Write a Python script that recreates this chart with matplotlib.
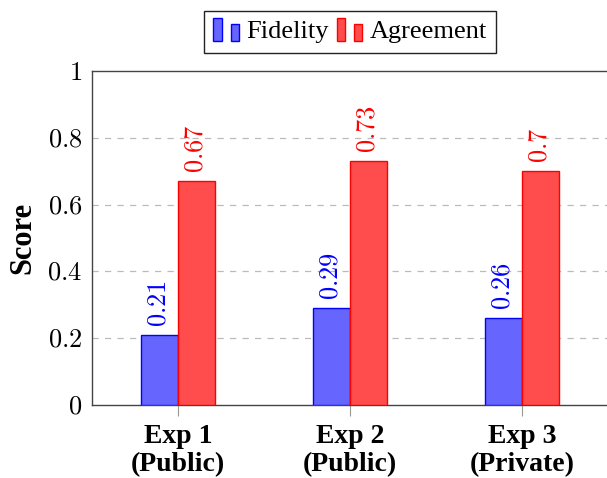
import numpy as np
import matplotlib
matplotlib.use("Agg")
import matplotlib.pyplot as plt
from matplotlib.patches import Rectangle
from matplotlib.legend_handler import HandlerBase

categories = ["Exp 1\n(Public)", "Exp 2\n(Public)", "Exp 3\n(Private)"]
fidelity = [0.21, 0.29, 0.26]
agreement = [0.67, 0.73, 0.70]

plt.rcParams["mathtext.fontset"] = "cm"
plt.rcParams["font.family"] = ["Liberation Serif", "DejaVu Serif"]


class TwoBarHandler(HandlerBase):
    # pgfplots-style ybar legend image: two small bars
    def create_artists(self, legend, orig_handle, xdescent, ydescent,
                       width, height, fontsize, trans):
        fc = orig_handle.get_facecolor()
        ec = orig_handle.get_edgecolor()
        w = width * 0.32
        r1 = Rectangle((-xdescent, -ydescent - 0.15 * height), w, height * 1.25,
                       facecolor=fc, edgecolor=ec, lw=1, transform=trans)
        r2 = Rectangle((-xdescent + width * 0.66, -ydescent - 0.15 * height), w, height * 0.95,
                       facecolor=fc, edgecolor=ec, lw=1, transform=trans)
        return [r1, r2]


fig = plt.figure(figsize=(6.07, 4.78), dpi=100)
ax = fig.add_axes([92 / 607, 73 / 478, 516 / 607, 334 / 478])

x = np.arange(len(categories))
bw = 0.215
blue_fc, blue_ec = "#6666ff", "#0000ff"
red_fc, red_ec = "#ff4d4d", "#ff0000"

ax.bar(x - bw / 2, fidelity, bw, color=blue_fc, edgecolor=blue_ec, lw=1, zorder=3)
ax.bar(x + bw / 2, agreement, bw, color=red_fc, edgecolor=red_ec, lw=1, zorder=3)

for xi, v in zip(x - bw / 2, fidelity):
    ax.text(xi, v + 0.025, f"${v:g}$", rotation=90, ha="center", va="bottom",
            color="blue", fontsize=19)
for xi, v in zip(x + bw / 2, agreement):
    ax.text(xi, v + 0.025, f"${v:g}$", rotation=90, ha="center", va="bottom",
            color="red", fontsize=19)

ax.set_xlim(-0.5, 2.5)
ax.set_ylim(0, 1)
ax.set_xticks(x)
ax.set_xticklabels(categories, fontweight="bold", fontsize=20, linespacing=1.15)
yt = [0, 0.2, 0.4, 0.6, 0.8, 1]
ax.set_yticks(yt)
ax.set_yticklabels([f"${t:g}$" for t in yt], fontsize=19)
ax.tick_params(axis="x", direction="out", length=8, color="#999999", width=0.8, pad=6)
ax.tick_params(axis="y", direction="in", length=0, pad=7)

ax.set_ylabel("Score", fontweight="bold", fontsize=22, labelpad=7)

for s in ax.spines.values():
    s.set_color("#444444")
    s.set_linewidth(1.0)

ax.set_axisbelow(True)
for t in yt[1:-1]:
    ax.axhline(t, color="#bbbbbb", lw=0.9, ls=(0, (5, 5)), zorder=0)

h1 = Rectangle((0, 0), 1, 1, facecolor=blue_fc, edgecolor=blue_ec)
h2 = Rectangle((0, 0), 1, 1, facecolor=red_fc, edgecolor=red_ec)
ax.legend(handles=[h1, h2], labels=["Fidelity", "Agreement"],
          handler_map={Rectangle: TwoBarHandler()},
          loc="lower center", bbox_to_anchor=(0.5, 1.055), ncol=2, fontsize=19,
          frameon=True, fancybox=False, edgecolor="#222222", framealpha=1,
          handlelength=1.0, handletextpad=0.25, columnspacing=0.3,
          borderpad=0.35, borderaxespad=0.0)

fig.savefig("out.png", dpi=100)
